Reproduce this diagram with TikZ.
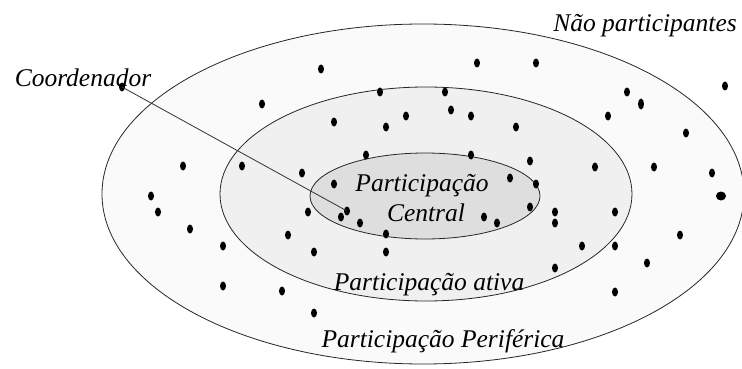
\documentclass[tikz,border=0pt]{standalone}
\usepackage{fontspec}
\setmainfont{Liberation Serif}
\usetikzlibrary{shapes.geometric}
\begin{document}
\begin{tikzpicture}[x=1pt,y=-1pt,
  zone/.style={draw=black!85,line width=0.8pt},
  dot/.style={ellipse,fill=black,inner sep=0pt,minimum width=6pt,minimum height=9pt},
  bigdot/.style={ellipse,fill=black,inner sep=0pt,minimum width=10pt,minimum height=9pt},
  lbl/.style={font=\fontsize{25.5}{30}\selectfont\itshape,inner sep=0pt,anchor=base},
  link/.style={draw=black!80,line width=0.8pt}]
\useasboundingbox (0,0) rectangle (742,369);
% zones
\node[zone,ellipse,fill=black!2,minimum width=642pt,minimum height=340pt,inner sep=0pt] (outer) at (423,194) {};
\node[zone,ellipse,fill=black!6,minimum width=412pt,minimum height=214pt,inner sep=0pt] (middle) at (426,194) {};
\node[zone,ellipse,fill=black!13,minimum width=230pt,minimum height=86pt,inner sep=0pt] (inner) at (425,196) {};
% labels
\node[lbl] (nao) at (645,32) {Não participantes};
\node[lbl] (coord) at (83,87) {Coordenador};
\node[lbl] (pc1) at (422,191) {Participação};
\node[lbl] (pc2) at (426,221) {Central};
\node[lbl] (pa) at (429,290) {Participação ativa};
\node[lbl] (pp) at (443,347) {Participação Periférica};
% dots
\node[dot] (c0) at (122,87) {};
\foreach \i/\x/\y in {2/183/166,3/242/166,4/321/69,5/477/63,6/536/63,7/262/104,8/380/92,
  9/445/92,10/451/110,11/406/116,12/471/116,13/334/122,14/386/127,15/366/155,16/471/155,
  17/302/173,18/334/184,19/725/86,20/627/92,22/608/116,23/516/127,24/686/133,
  25/530/161,26/595/167,27/654/167,28/712/173,29/510/178,30/536/184,31/151/196,32/158/212,
  33/190/229,34/223/246,35/223/286,36/308/212,38/341/217,39/360/223,40/386/234,
  41/288/235,42/314/252,43/386/252,44/282/291,45/314/313,46/484/217,47/497/223,48/530/207,
  49/555/212,50/555/223,51/615/212,53/680/235,54/582/246,55/615/246,56/647/263,57/555/268,58/615/292}
  {\node[dot] (d\i) at (\x,\y) {};}
\node[dot,minimum height=11pt] (d21) at (641,104) {};
\node[bigdot] (d52) at (721,196) {};
\node[dot] (d37) at (347,211) {};
% connector
\draw[link] (c0.center) -- (d37.center);
\end{tikzpicture}
\end{document}
